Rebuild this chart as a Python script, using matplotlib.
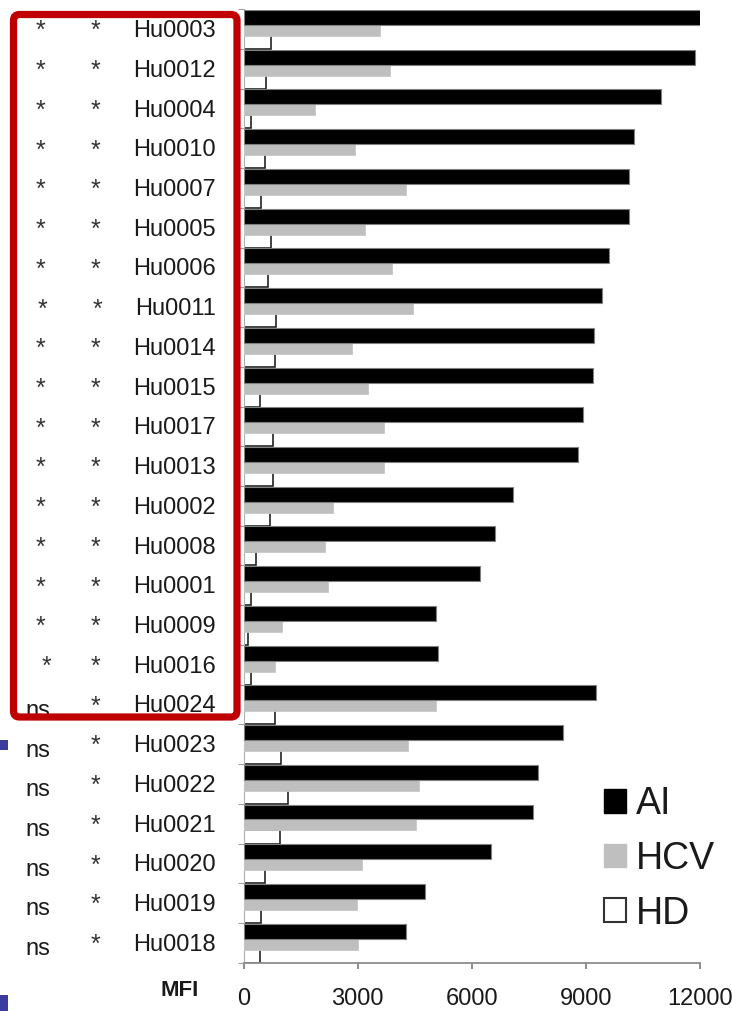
import numpy as np
import matplotlib
matplotlib.use('Agg')
import matplotlib.pyplot as plt
from matplotlib.patches import Patch, FancyBboxPatch, Rectangle
import matplotlib.transforms as mtransforms

plt.rcParams['font.family'] = ['Liberation Sans', 'DejaVu Sans']

# ---------------- data ----------------
samples = ['Hu0003', 'Hu0012', 'Hu0004', 'Hu0010', 'Hu0007', 'Hu0005', 'Hu0006',
           'Hu0011', 'Hu0014', 'Hu0015', 'Hu0017', 'Hu0013', 'Hu0002', 'Hu0008',
           'Hu0001', 'Hu0009', 'Hu0016', 'Hu0024', 'Hu0023', 'Hu0022', 'Hu0021',
           'Hu0020', 'Hu0019', 'Hu0018']
ai = [12050, 11850, 10970, 10270, 10140, 10140, 9600, 9430, 9220, 9180, 8910, 8780,
      7080, 6600, 6210, 5070, 5110, 9260, 8390, 7730, 7610, 6500, 4760, 4280]
hcv = [3580, 3840, 1880, 2930, 4280, 3190, 3890, 4450, 2840, 3280, 3680, 3680,
       2360, 2150, 2230, 1010, 840, 5070, 4330, 4600, 4540, 3110, 2970, 3020]
hd = [730, 600, 210, 560, 470, 730, 640, 860, 820, 430, 780, 780,
      690, 340, 210, 120, 210, 820, 990, 1170, 950, 560, 470, 430]
sig_col1 = ['*'] * 17 + ['ns'] * 7
sig_col2 = ['*'] * 24
series_names = ['AI', 'HCV', 'HD']
xticks = [0, 3000, 6000, 9000, 12000]
xlabel = 'MFI'

# ---------------- layout ----------------
W, H = 732, 1011
fig = plt.figure(figsize=(W / 100, H / 100), dpi=100)
ax_left, ax_right = 243.5, 700.3
ax_top, ax_bot = 9.3, 962.7
ax = fig.add_axes([ax_left / W, (H - ax_bot) / H,
                   (ax_right - ax_left) / W, (ax_bot - ax_top) / H])

n = len(samples)
y = np.arange(n)

# white (HD) under gray, gray under black
ax.barh(y + 0.325, hd, height=0.35, facecolor='white', edgecolor='#222222',
        linewidth=1.2, zorder=2)
ax.barh(y + 0.0335, hcv, height=0.277, facecolor='#bfbfbf', edgecolor='#c8c8c8',
        linewidth=0.6, zorder=3)
ax.barh(y - 0.2935, ai, height=0.377, facecolor='black', edgecolor='#808080',
        linewidth=0.8, zorder=4)

ax.set_xlim(0, 12000)
ax.set_ylim(n - 0.5, -0.5)
ax.set_xticks(xticks)
ax.set_xticklabels([str(v) for v in xticks], fontsize=17, color='#1a1a1a')
ax.set_yticks(np.arange(n + 1) - 0.5)
ax.set_yticklabels([])
ax.tick_params(axis='x', direction='out', length=4.3, width=1.4, color='#8c8c8c', pad=14)
ax.tick_params(axis='y', direction='out', length=4.3, width=0.8, color='#a0a0a0')
for s in ['top', 'right']:
    ax.spines[s].set_visible(False)
ax.spines['left'].set_color('#b0b0b0')
ax.spines['left'].set_linewidth(0.8)
ax.spines['bottom'].set_color('#8c8c8c')
ax.spines['bottom'].set_linewidth(1.3)

trans = ax.get_yaxis_transform()
axw = ax_right - ax_left


def fx(px):
    return (px - ax_left) / axw


star1_px = [40] * n
star1_px[7] = 42
star1_px[16] = 46
star2_px = [95] * n
star2_px[7] = 97

for i, name in enumerate(samples):
    ax.text(fx(216), i + 0.2, name, transform=trans, ha='right', va='baseline',
            fontsize=17, color='#1a1a1a', clip_on=False)
    if sig_col1[i] == '*':
        ax.text(fx(star1_px[i]), i + 0.23, '*', transform=trans, ha='center',
                va='baseline', fontsize=18, color='#333333', clip_on=False)
    else:
        ax.text(fx(37.5), i + 0.31, sig_col1[i], transform=trans, ha='center',
                va='baseline', fontsize=17, color='#1a1a1a', clip_on=False)
    ax.text(fx(star2_px[i]), i + 0.23, sig_col2[i], transform=trans, ha='center',
            va='baseline', fontsize=18, color='#333333', clip_on=False)

# legend
handles = [Patch(facecolor='black', edgecolor='black'),
           Patch(facecolor='#bfbfbf', edgecolor='#bfbfbf'),
           Patch(facecolor='white', edgecolor='#333333', linewidth=1.5)]
leg = ax.legend(handles, series_names, loc='upper left',
                bbox_to_anchor=(604 / W, (H - 786) / H), bbox_transform=fig.transFigure,
                frameon=False, fontsize=27, borderpad=0, borderaxespad=0,
                handlelength=0.59, handleheight=0.59, handletextpad=0.27,
                labelspacing=0.5)
for t in leg.get_texts():
    t.set_color('#1a1a1a')

fig.text(180 / W, 1 - 990 / H, xlabel, ha='center', va='center', fontsize=16,
         fontweight='bold', color='#1a1a1a')

# red highlight box (figure pixels)
ident = mtransforms.IdentityTransform()
box = FancyBboxPatch((13.5, H - 717), 237 - 13.5, 717 - 14.5,
                     boxstyle='round,pad=0,rounding_size=6', fill=False,
                     edgecolor='#c00000', linewidth=5.2, transform=ident, zorder=10)
fig.add_artist(box)

# small blue slide marks at left edge
fig.add_artist(Rectangle((0, H - 750), 8, 10, facecolor='#3b3ba0', edgecolor='none',
                         transform=ident, zorder=10))
fig.add_artist(Rectangle((0, 0), 8, 16, facecolor='#3b3ba0', edgecolor='none',
                         transform=ident, zorder=10))

fig.savefig('out.png', dpi=100)
